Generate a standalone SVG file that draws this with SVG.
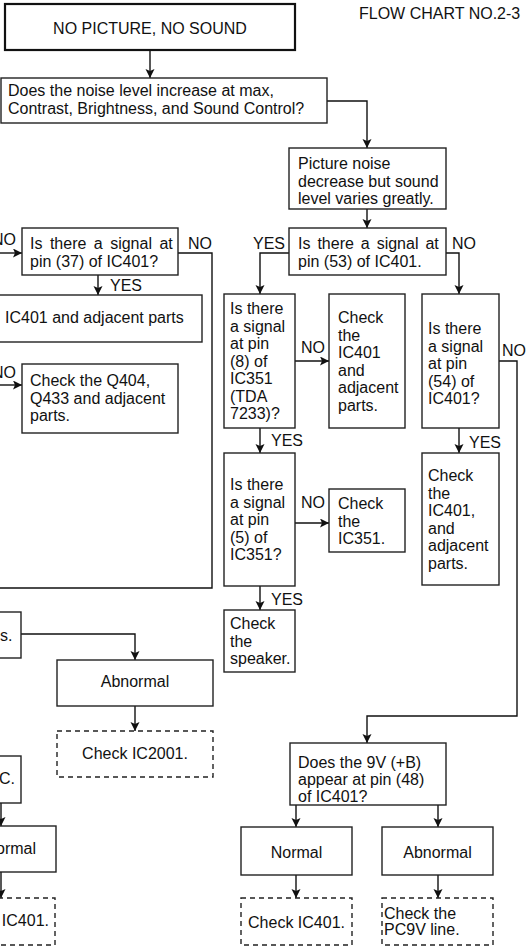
<svg xmlns="http://www.w3.org/2000/svg" width="532" height="947" viewBox="0 0 532 947">
<defs>
<marker id="ah" markerUnits="userSpaceOnUse" markerWidth="12" markerHeight="12" refX="9" refY="4.5" orient="auto"><path d="M0,0 L9,4.5 L0,9 L2,4.5 z" fill="#111"/></marker>
</defs>
<style>
.b{fill:#fff;stroke:#222;stroke-width:1.4}
.d{fill:#fff;stroke:#222;stroke-width:1.4;stroke-dasharray:5 4}
.c{fill:none;stroke:#111;stroke-width:1.4}
.a{fill:none;stroke:#111;stroke-width:1.4;marker-end:url(#ah)}
text{font-family:"Liberation Sans",Arial,sans-serif;font-size:16px;fill:#111}
.m{text-anchor:middle}
.e{text-anchor:end}
</style>
<rect width="532" height="947" fill="#fff"/>
<text id="title" x="359" y="19">FLOW CHART NO.2-3</text>

<g id="connectors">
<path class="a" d="M150,50 V78"/>
<path class="a" d="M327,101 H367 V148"/>
<path class="a" d="M367,209 V228"/>
<path class="a" d="M289,253 H260 V294"/>
<path class="a" d="M446,253 H459 V294"/>
<path class="a" d="M-2,253 H22"/>
<path class="c" d="M178,253 H212 V588 H-2"/>
<path class="a" d="M98,275 V295"/>
<path class="a" d="M-2,385 H22"/>
<path class="a" d="M295,361 H329"/>
<path class="a" d="M499,361 H517 V716 H367 V743"/>
<path class="a" d="M260,428 V453"/>
<path class="a" d="M459,428 V453"/>
<path class="a" d="M295,523 H329"/>
<path class="a" d="M260,586 V610"/>
<path class="a" d="M21,634 H135 V660"/>
<path class="a" d="M135,706 V731"/>
<path class="a" d="M1,803 V826"/>
<path class="a" d="M1,872 V898"/>
<path class="a" d="M296,805 V827"/>
<path class="a" d="M438,805 V827"/>
<path class="a" d="M296,875 V898"/>
<path class="a" d="M438,875 V898"/>
<text class="e" x="16" y="245">NO</text>
<text x="188" y="249">NO</text>
<text x="110" y="291">YES</text>
<text class="e" x="16" y="378">NO</text>
<text class="e" x="285" y="249">YES</text>
<text x="452" y="249">NO</text>
<text x="301" y="353">NO</text>
<text x="502" y="356">NO</text>
<text x="271" y="446">YES</text>
<text x="469" y="448">YES</text>
<text x="301" y="508">NO</text>
<text x="271" y="605">YES</text>
</g>

<g id="n-start"><rect x="5" y="4" width="290" height="46" fill="#fff" stroke="#111" stroke-width="2.2"/><text class="m" x="150" y="34">NO PICTURE, NO SOUND</text></g>

<g id="n-noise"><rect class="b" x="1" y="78" width="326" height="45"/><text x="8" y="96" font-size="16.8">Does the noise level increase at max,</text><text x="8" y="114" font-size="16.8">Contrast, Brightness, and Sound Control?</text></g>

<g id="n-picnoise"><rect class="b" x="289" y="148" width="157" height="61"/><text x="298" y="169">Picture noise</text><text x="298" y="186.5">decrease but sound</text><text x="298" y="204">level varies greatly.</text></g>

<g id="n-pin53"><rect class="b" x="289" y="228" width="157" height="47"/><text x="298" y="249" word-spacing="2.5">Is there a signal at</text><text x="298" y="267">pin (53) of IC401.</text></g>

<g id="n-pin37"><rect class="b" x="22" y="228" width="156" height="47"/><text x="30" y="249" word-spacing="3">Is there a signal at</text><text x="30" y="267">pin (37) of IC401?</text></g>

<g id="n-ic401adj"><rect class="b" x="-2" y="295" width="204" height="47"/><text x="5" y="323">IC401 and adjacent parts</text></g>

<g id="n-q404"><rect class="b" x="22" y="364" width="156" height="69"/><text x="30" y="386">Check the Q404,</text><text x="30" y="403.5">Q433 and adjacent</text><text x="30" y="421">parts.</text></g>

<g id="n-pin8"><rect class="b" x="224" y="294" width="71" height="134"/><text x="230" y="314">Is there</text><text x="230" y="331.5">a signal</text><text x="230" y="349">at pin</text><text x="230" y="366.5">(8) of</text><text x="230" y="384">IC351</text><text x="230" y="401.5">(TDA</text><text x="230" y="419">7233)?</text></g>

<g id="n-chk401mid"><rect class="b" x="329" y="294" width="76" height="134"/><text x="338" y="323">Check</text><text x="338" y="340.5">the</text><text x="338" y="358">IC401</text><text x="338" y="375.5">and</text><text x="338" y="393">adjacent</text><text x="338" y="410.5">parts.</text></g>

<g id="n-pin54"><rect class="b" x="422" y="294" width="77" height="134"/><text x="428" y="334">Is there</text><text x="428" y="351.5">a signal</text><text x="428" y="369">at pin</text><text x="428" y="386.5">(54) of</text><text x="428" y="404">IC401?</text></g>

<g id="n-chk401right"><rect class="b" x="422" y="453" width="77" height="132"/><text x="428" y="481">Check</text><text x="428" y="498.5">the</text><text x="428" y="516">IC401,</text><text x="428" y="533.5">and</text><text x="428" y="551">adjacent</text><text x="428" y="568.5">parts.</text></g>

<g id="n-pin5"><rect class="b" x="224" y="453" width="71" height="133"/><text x="230" y="490">Is there</text><text x="230" y="507.5">a signal</text><text x="230" y="525">at pin</text><text x="230" y="542.5">(5) of</text><text x="230" y="560">IC351?</text></g>

<g id="n-chk351"><rect class="b" x="329" y="489" width="76" height="63"/><text x="338" y="509">Check</text><text x="338" y="526.5">the</text><text x="338" y="544">IC351.</text></g>

<g id="n-speaker"><rect class="b" x="224" y="610" width="71" height="62"/><text x="230" y="629">Check</text><text x="230" y="646.5">the</text><text x="230" y="664">speaker.</text></g>

<g id="n-s"><rect class="b" x="-2" y="612" width="23" height="46"/><text x="0" y="641">s.</text></g>

<g id="n-abn1"><rect class="b" x="57" y="660" width="156" height="46"/><text class="m" x="135" y="687">Abnormal</text></g>

<g id="n-ic2001"><rect class="d" x="57" y="731" width="156" height="46"/><text class="m" x="135" y="759">Check IC2001.</text></g>

<g id="n-c"><rect class="b" x="-2" y="756" width="23" height="47"/><text x="-1" y="784">C.</text></g>

<g id="n-norm1"><rect class="b" x="-2" y="826" width="58" height="46"/><text class="e" x="36" y="854">ormal</text></g>

<g id="n-ic401l"><rect class="d" x="-2" y="898" width="57" height="47"/><text class="e" x="49" y="926">IC401.</text></g>

<g id="n-9v"><rect class="b" x="290" y="743" width="156" height="62"/><text x="298" y="768">Does the 9V (+B)</text><text x="298" y="785">appear at pin (48)</text><text x="298" y="802">of IC401?</text></g>

<g id="n-norm2"><rect class="b" x="241" y="827" width="111" height="48"/><text class="m" x="296.5" y="858">Normal</text></g>

<g id="n-abn2"><rect class="b" x="382" y="827" width="111" height="48"/><text class="m" x="437.5" y="858">Abnormal</text></g>

<g id="n-chk401b"><rect class="d" x="241" y="898" width="111" height="47"/><text class="m" x="296.5" y="928">Check IC401.</text></g>

<g id="n-pc9v"><rect class="d" x="382" y="898" width="111" height="47"/><text x="384" y="919">Check the</text><text x="384" y="935">PC9V line.</text></g>
</svg>
